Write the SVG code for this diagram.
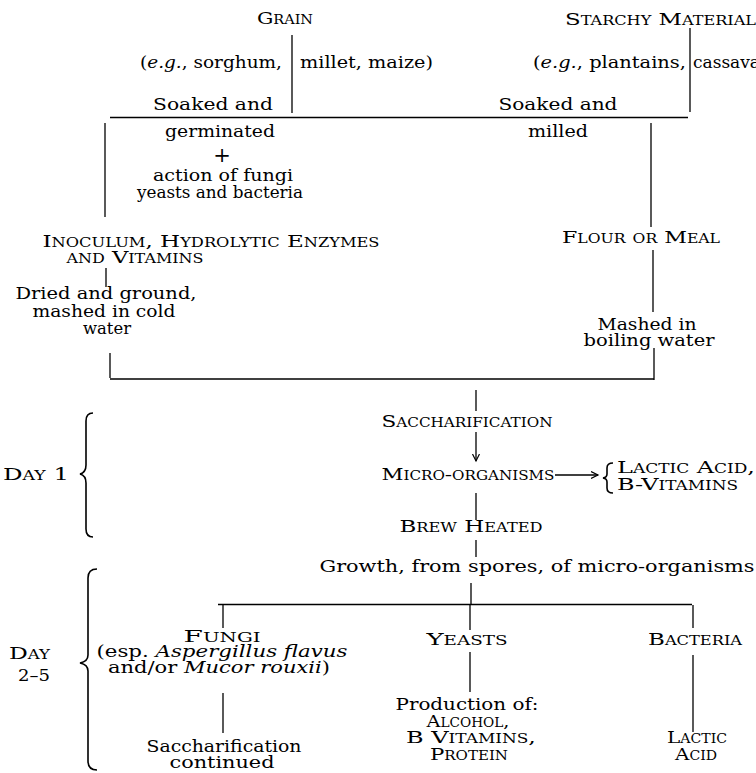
<svg xmlns="http://www.w3.org/2000/svg" width="756" height="773" viewBox="0 0 756 773">
<style>
.t{font-family:"DejaVu Serif","Liberation Serif",serif;font-size:17px;fill:#000}
.sc{font-variant:small-caps}
.i{font-style:italic}
.m{text-anchor:middle}
.e{text-anchor:end}
.ln{stroke:#000;stroke-width:1.3;fill:none}
.br{stroke:#000;stroke-width:1.6;fill:none}
</style>
<defs>
<marker id="ah" markerWidth="10" markerHeight="10" refX="7" refY="4" orient="auto" markerUnits="userSpaceOnUse">
<path d="M0,0.5 L7,4 L0,7.5" fill="none" stroke="#000" stroke-width="1.2"/>
</marker>
</defs>
<rect width="756" height="773" fill="#fff"/>
<g id="connectors">
<path class="ln" d="M292,35 V113"/>
<path class="ln" d="M690,28 V112"/>
<path class="ln" d="M110,117.5 H688"/>
<path class="ln" d="M105,123 V217"/>
<path class="ln" d="M106,268 V287"/>
<path class="ln" d="M110,353 V378"/>
<path class="ln" d="M110,379 H654"/>
<path class="ln" d="M651,123 V227"/>
<path class="ln" d="M653,250 V312"/>
<path class="ln" d="M654,348 V380"/>
<path class="ln" d="M476,390 V411"/>
<path class="ln" d="M476,432 V461" marker-end="url(#ah)"/>
<path class="ln" d="M555,475 H598" marker-end="url(#ah)"/>
<path class="ln" d="M476,493 V520"/>
<path class="ln" d="M476,540 V557"/>
<path class="ln" d="M471,583 V604"/>
<path class="ln" d="M218,604.5 H692"/>
<path class="ln" d="M223,605 V628"/>
<path class="ln" d="M470,605 V630"/>
<path class="ln" d="M693,605 V628"/>
<path class="ln" d="M223,693 V733"/>
<path class="ln" d="M470,652 V692"/>
<path class="ln" d="M693,655 V732"/>
</g>
<g id="braces">
<path class="br" d="M93,413 C88,413 86,416 86,421 L86,465 C86,470 84,473 80,474 C84,475 86,478 86,483 L86,529 C86,534 88,537 93,537"/>
<path class="br" d="M97,569 C91,569 88,572 88,578 L88,655 C88,660 85,662 80,663 C85,664 88,666 88,671 L88,761 C88,767 91,770 97,770"/>
<path class="br" d="M613,463 C609,463 607,465 607,468 L607,474 C607,476 606,477.5 603,478 C606,478.5 607,480 607,482 L607,488 C607,491 609,493 613,493"/>
</g>
<g id="grain"><text class="t sc m" x="285" y="24" textLength="56" lengthAdjust="spacingAndGlyphs">Grain</text>
<text class="t e" x="282" y="68" textLength="142" lengthAdjust="spacingAndGlyphs">(<tspan class="i">e.g.</tspan>, sorghum,</text>
<text class="t" x="300" y="68" textLength="133" lengthAdjust="spacingAndGlyphs">millet, maize)</text></g>
<g id="starchy"><text class="t sc" x="565" y="25" textLength="191" lengthAdjust="spacingAndGlyphs">Starchy Material</text>
<text class="t e" x="686" y="68" textLength="153" lengthAdjust="spacingAndGlyphs">(<tspan class="i">e.g.</tspan>, plantains,</text>
<text class="t" x="693" y="68">cassava</text></g>
<g id="soaked-germinated"><text class="t m" x="213" y="110" textLength="120" lengthAdjust="spacingAndGlyphs">Soaked  and</text>
<text class="t m" x="220" y="137" textLength="110" lengthAdjust="spacingAndGlyphs">germinated</text>
<text class="t m" x="222" y="162" style="font-size:21px">+</text>
<text class="t m" x="223" y="181" textLength="140" lengthAdjust="spacingAndGlyphs">action of fungi</text>
<text class="t m" x="220" y="198" textLength="166" lengthAdjust="spacingAndGlyphs">yeasts and bacteria</text></g>
<g id="soaked-milled"><text class="t m" x="558" y="110" textLength="119" lengthAdjust="spacingAndGlyphs">Soaked  and</text>
<text class="t m" x="558" y="137" textLength="60" lengthAdjust="spacingAndGlyphs">milled</text></g>
<g id="inoculum"><text class="t sc m" x="211" y="247" textLength="337" lengthAdjust="spacingAndGlyphs">Inoculum, Hydrolytic Enzymes</text>
<text class="t sc m" x="135" y="263" textLength="137" lengthAdjust="spacingAndGlyphs">and Vitamins</text></g>
<g id="dried"><text class="t m" x="106" y="299" textLength="181" lengthAdjust="spacingAndGlyphs">Dried and ground,</text>
<text class="t m" x="104" y="317" textLength="143" lengthAdjust="spacingAndGlyphs">mashed in cold</text>
<text class="t m" x="107" y="334" textLength="48" lengthAdjust="spacingAndGlyphs">water</text></g>
<g id="flour"><text class="t sc m" x="641" y="243" textLength="158" lengthAdjust="spacingAndGlyphs">Flour or Meal</text></g>
<g id="mashed-boiling"><text class="t m" x="647" y="330" textLength="99" lengthAdjust="spacingAndGlyphs">Mashed in</text>
<text class="t m" x="649" y="346" textLength="131" lengthAdjust="spacingAndGlyphs">boiling water</text></g>
<g id="saccharification"><text class="t sc m" x="467" y="427" textLength="171" lengthAdjust="spacingAndGlyphs">Saccharification</text></g>
<g id="micro-organisms"><text class="t sc m" x="468" y="480" textLength="173" lengthAdjust="spacingAndGlyphs">Micro-organisms</text></g>
<g id="lactic-b"><text class="t sc" x="617" y="473" textLength="138" lengthAdjust="spacingAndGlyphs">Lactic Acid,</text>
<text class="t sc" x="617" y="490" textLength="121" lengthAdjust="spacingAndGlyphs">B-Vitamins</text></g>
<g id="brew"><text class="t sc m" x="471" y="532" textLength="143" lengthAdjust="spacingAndGlyphs">Brew  Heated</text></g>
<g id="growth"><text class="t m" x="537" y="572" textLength="435" lengthAdjust="spacingAndGlyphs">Growth, from spores, of micro-organisms</text></g>
<g id="day1"><text class="t sc" x="3" y="480" textLength="66" lengthAdjust="spacingAndGlyphs">Day  1</text></g>
<g id="day25"><text class="t sc" x="9" y="659" textLength="41" lengthAdjust="spacingAndGlyphs">Day</text>
<text class="t" x="18" y="681" textLength="32" lengthAdjust="spacingAndGlyphs">2–5</text></g>
<g id="fungi"><text class="t sc m" x="222" y="642" textLength="77" lengthAdjust="spacingAndGlyphs">Fungi</text>
<text class="t m" x="222" y="657" textLength="251" lengthAdjust="spacingAndGlyphs">(esp. <tspan class="i">Aspergillus flavus</tspan></text>
<text class="t m" x="219" y="673" textLength="222" lengthAdjust="spacingAndGlyphs">and/or <tspan class="i">Mucor rouxii</tspan>)</text></g>
<g id="sacch-continued"><text class="t m" x="224" y="752" textLength="155" lengthAdjust="spacingAndGlyphs">Saccharification</text>
<text class="t m" x="222" y="768" textLength="105" lengthAdjust="spacingAndGlyphs">continued</text></g>
<g id="yeasts"><text class="t sc m" x="467" y="645" textLength="81" lengthAdjust="spacingAndGlyphs">Yeasts</text></g>
<g id="production"><text class="t m" x="467" y="710" textLength="143" lengthAdjust="spacingAndGlyphs">Production of:</text>
<text class="t sc m" x="468" y="727" textLength="83" lengthAdjust="spacingAndGlyphs">Alcohol,</text>
<text class="t sc m" x="471" y="743" textLength="130" lengthAdjust="spacingAndGlyphs">B Vitamins,</text>
<text class="t sc m" x="469" y="760" textLength="78" lengthAdjust="spacingAndGlyphs">Protein</text></g>
<g id="bacteria"><text class="t sc m" x="695" y="645" textLength="94" lengthAdjust="spacingAndGlyphs">Bacteria</text></g>
<g id="lactic-acid"><text class="t sc m" x="697" y="743" textLength="60" lengthAdjust="spacingAndGlyphs">Lactic</text>
<text class="t sc m" x="696" y="760" textLength="42" lengthAdjust="spacingAndGlyphs">Acid</text></g>
</svg>
